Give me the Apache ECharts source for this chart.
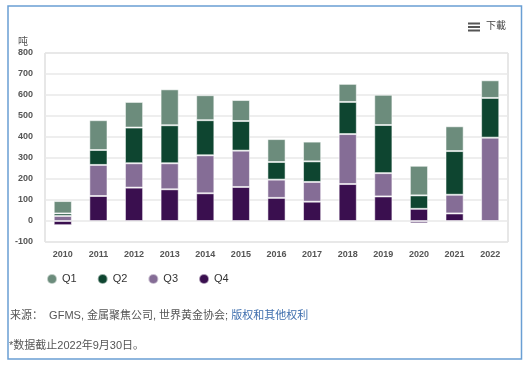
<!DOCTYPE html>
<html><head><meta charset="utf-8">
<script src="https://cdn.jsdelivr.net/npm/echarts@6/dist/echarts.min.js"></script>
<style>html,body{margin:0;padding:0;background:#fff}#c{width:530px;height:367px}</style>
</head><body><div id="c"></div>
<script>
var years = ['2010','2011','2012','2013','2014','2015','2016','2017','2018','2019','2020','2021','2022'];
var q1 = [59, 142, 122, 171, 119, 100, 109, 94, 86, 144, 141, 118, 84];
var q2 = [12, 71, 170, 181, 167, 141, 84, 98, 153, 229, 64, 208, 189];
var q3 = [24, 148, 116, 124, 181, 173, 87, 94, 238, 111, -12, 89, 397];
var q4 = [-20, 119, 159, 151, 132, 162, 110, 92, 176, 117, 58, 36, null];
var seriesNames = ['Q1','Q2','Q3','Q4'];
var colors = {Q1:'#6c8c7c', Q2:'#0e4530', Q3:'#856d96', Q4:'#3a0f4f'};
var yTicks = {min:-100, max:800, step:100};

var font = '"Liberation Sans", Arial, "Noto Sans CJK SC", sans-serif';
var chart = echarts.init(document.getElementById('c'), null, {renderer:'canvas'});
function mk(name, data){
  return {name:name, type:'bar', stack:'t', data:data, barWidth:'51%',
    itemStyle:{color:colors[name], borderColor:'rgba(255,255,255,0.55)', borderWidth:1},
    emphasis:{disabled:true}};
}
chart.setOption({
  animation:false,
  textStyle:{fontFamily:font},
  grid:{left:45, right:22, top:53, bottom:125, show:true, borderColor:'#cfcfcf', borderWidth:1, backgroundColor:'transparent'},
  legend:{data:seriesNames, left:41, top:268, icon:'circle', itemWidth:10, itemHeight:10, itemGap:20,
    textStyle:{fontSize:11, color:'#333', fontFamily:font}},
  xAxis:{type:'category', data:years, axisLine:{show:false}, axisTick:{show:false},
    axisLabel:{fontSize:9, color:'#555', fontWeight:'bold', margin:8}},
  yAxis:{type:'value', min:yTicks.min, max:yTicks.max, interval:yTicks.step,
    axisLine:{show:false}, axisTick:{show:false},
    splitLine:{lineStyle:{color:'#e8e8e8', width:1.5}},
    axisLabel:{fontSize:9, color:'#555', fontWeight:'bold', margin:12}},
  series:[mk('Q4',q4), mk('Q3',q3), mk('Q2',q2), mk('Q1',q1)],
  graphic:[
    {type:'rect', shape:{x:8, y:6, width:513.5, height:353}, style:{fill:'none', stroke:'#6a9fd4', lineWidth:1.5}, silent:true},
    {type:'text', left:18, top:37, style:{text:'吨', fontSize:10, fill:'#555', fontFamily:font}},
    {type:'rect', shape:{x:468, y:22.5, width:12, height:2}, style:{fill:'#555'}},
    {type:'rect', shape:{x:468, y:26, width:12, height:2}, style:{fill:'#555'}},
    {type:'rect', shape:{x:468, y:29.5, width:12, height:2}, style:{fill:'#555'}},
    {type:'text', left:486, top:21, style:{text:'下載', fontSize:10, fill:'#444', fontFamily:font}},
    {type:'text', left:10, top:310, style:{text:'{a|来源：  GFMS, 金属聚焦公司, 世界黄金协会; }{b|版权和其他权利}',
      rich:{a:{fontSize:11, fill:'#555', fontFamily:font}, b:{fontSize:11, fill:'#3f6fae', fontFamily:font}}}},
    {type:'text', left:9, top:340, style:{text:'*数据截止2022年9月30日。', fontSize:11, fill:'#555', fontFamily:font}}
  ]
});
</script></body></html>
